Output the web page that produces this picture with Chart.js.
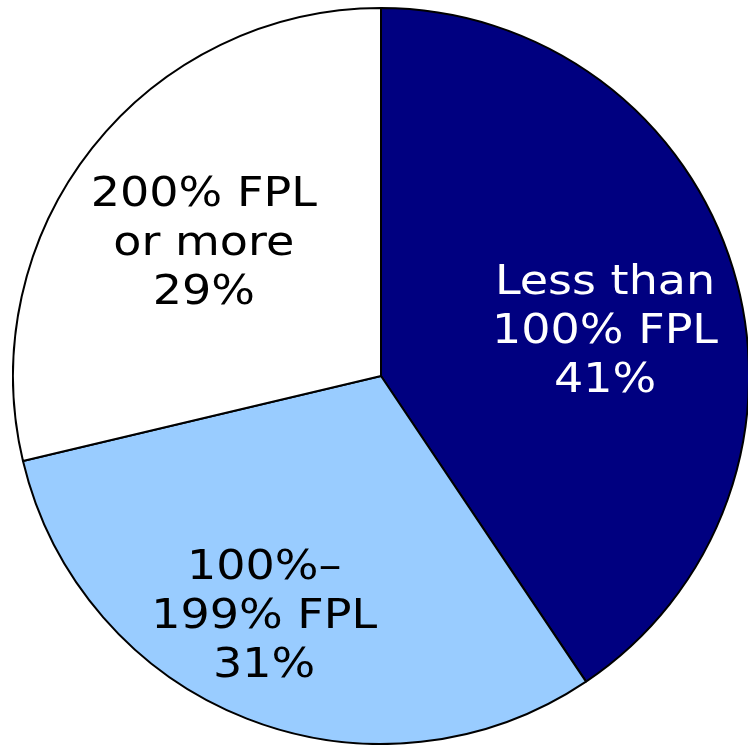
<!DOCTYPE html>
<html>
<head>
<meta charset="utf-8">
<script src="https://cdn.jsdelivr.net/npm/chart.js@4"></script>
<style>
  html, body { margin: 0; padding: 0; background: #ffffff; overflow: hidden; }
  body { width: 748px; height: 748px; position: relative; }
  #wrap { position: absolute; left: 12px; top: 7px; width: 738px; height: 738px; }
</style>
</head>
<body>
<div id="wrap"><canvas id="c"></canvas></div>
<script>
// Data
const categories = ["Less than\n100% FPL", "100%–\n199% FPL", "200% FPL\nor more"];
const values = [41, 31, 29];
const valueLabels = ["41%", "31%", "29%"];

// Styles
const colors = ["#000080", "#99CCFF", "#FFFFFF"];
const textColors = ["#FFFFFF", "#000000", "#000000"];
// label placement relative to arc: [radius fraction, angle offset in degrees]
const labelPlace = [[0.62, 6], [0.73, 4.4], [0.60, -1.7]];

const labelPlugin = {
  id: 'sliceLabels',
  afterDatasetsDraw(chart) {
    const ctx = chart.ctx;
    const meta = chart.getDatasetMeta(0);
    meta.data.forEach((arc, i) => {
      const p = arc.getProps(['x', 'y', 'startAngle', 'endAngle', 'outerRadius'], true);
      const mid = (p.startAngle + p.endAngle) / 2 + labelPlace[i][1] * Math.PI / 180;
      const r = p.outerRadius * labelPlace[i][0];
      const cx = p.x + Math.cos(mid) * r;
      const cy = p.y + Math.sin(mid) * r;
      const lines = categories[i].split("\n").concat([valueLabels[i]]);
      ctx.save();
      ctx.translate(cx, cy);
      ctx.scale(1.15, 1);
      ctx.font = '40px "DejaVu Sans"';
      ctx.fillStyle = textColors[i];
      ctx.textAlign = 'center';
      ctx.textBaseline = 'middle';
      const lh = 49;
      lines.forEach((ln, j) => {
        ctx.fillText(ln, 0, (j - (lines.length - 1) / 2) * lh);
      });
      ctx.restore();
    });
  }
};

new Chart(document.getElementById('c'), {
  type: 'pie',
  data: {
    labels: categories,
    datasets: [{
      data: values,
      backgroundColor: colors,
      borderColor: '#000000',
      borderWidth: 2,
      borderAlign: 'center'
    }]
  },
  options: {
    responsive: true,
    maintainAspectRatio: false,
    animation: false,
    layout: { padding: 0 },
    plugins: {
      legend: { display: false },
      tooltip: { enabled: false }
    }
  },
  plugins: [labelPlugin]
});
</script>
</body>
</html>
